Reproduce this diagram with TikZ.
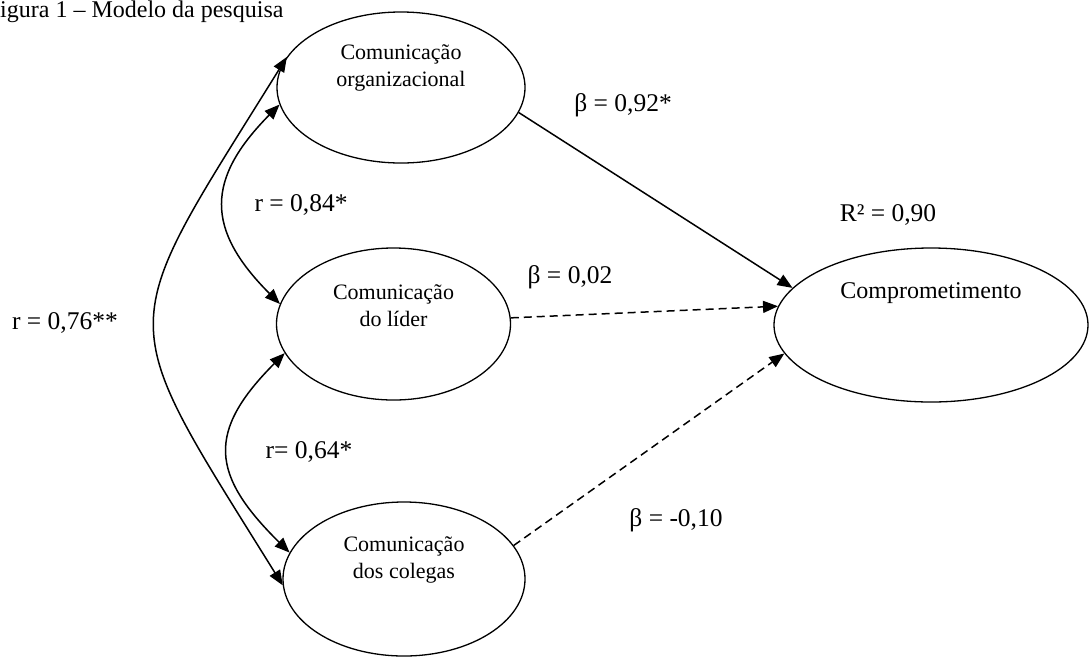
\documentclass[tikz,border=0pt]{standalone}
\usepackage{fontspec}
\setmainfont{Liberation Serif}
\usetikzlibrary{arrows.meta,shapes.geometric}
\tikzset{
  ell/.style={draw, ellipse, line width=1.3pt, inner sep=0pt},
  etxt/.style={align=center, font=\fontsize{22}{27}\selectfont, inner sep=0pt},
  lbl/.style={font=\fontsize{25.5}{30}\selectfont, inner sep=0pt},
  arr/.style={line width=1.5pt, -{Triangle[length=15pt,width=12pt]}},
  darr/.style={arr, dash pattern=on 8pt off 5pt},
  barr/.style={line width=1.5pt, {Triangle[length=15pt,width=12pt]}-{Triangle[length=15pt,width=12pt]}}
}
\begin{document}
\begin{tikzpicture}[x=1pt,y=-1pt]
\useasboundingbox (0,0) rectangle (1090,657);
% title
\node[anchor=base west, inner sep=0pt, font=\fontsize{24}{28}\selectfont] (title) at (0,17.5) {igura 1 – Modelo da pesquisa};
% ellipses
\node[ell, minimum width=248pt, minimum height=151pt] (org) at (401,87.5) {};
\node[ell, minimum width=234pt, minimum height=152pt] (lid) at (393.5,324) {};
\node[ell, minimum width=242pt, minimum height=154pt] (col) at (404,579) {};
\node[ell, minimum width=314pt, minimum height=154pt] (com) at (931,325) {};
% ellipse texts
\node[etxt] (torg) at (401,68) {Comunicação\\organizacional};
\node[etxt] (tlid) at (393.5,306) {Comunicação\\do líder};
\node[etxt] (tcol) at (404,560) {Comunicação\\dos colegas};
\node[etxt, font=\fontsize{24}{28}\selectfont] (tcom) at (931,293) {Comprometimento};
% paths
\draw[arr] (org.-12) -- (com.165);
\draw[darr] (lid.3) -- (com.173);
\draw[darr] (col.17) -- (com.191);
% correlations
\draw[barr] (org.188) .. controls (206,179) and (205,229) .. (lid.170);
\draw[barr] (lid.195) .. controls (206,432) and (211,475) .. (col.167);
\draw[barr] (org.165) .. controls (113,337) and (111,309) .. (col.183);
% labels
\node[lbl] (b1) at (623,105) {β = 0,92*};
\node[lbl] (r2) at (888,215) {R² = 0,90};
\node[lbl] (b2) at (570,277) {β = 0,02};
\node[lbl] (b3) at (676,520) {β = -0,10};
\node[lbl] (r84) at (301,205) {r = 0,84*};
\node[lbl] (r64) at (309,452) {r= 0,64*};
\node[lbl] (r76) at (65,323) {r = 0,76**};
\end{tikzpicture}
\end{document}
